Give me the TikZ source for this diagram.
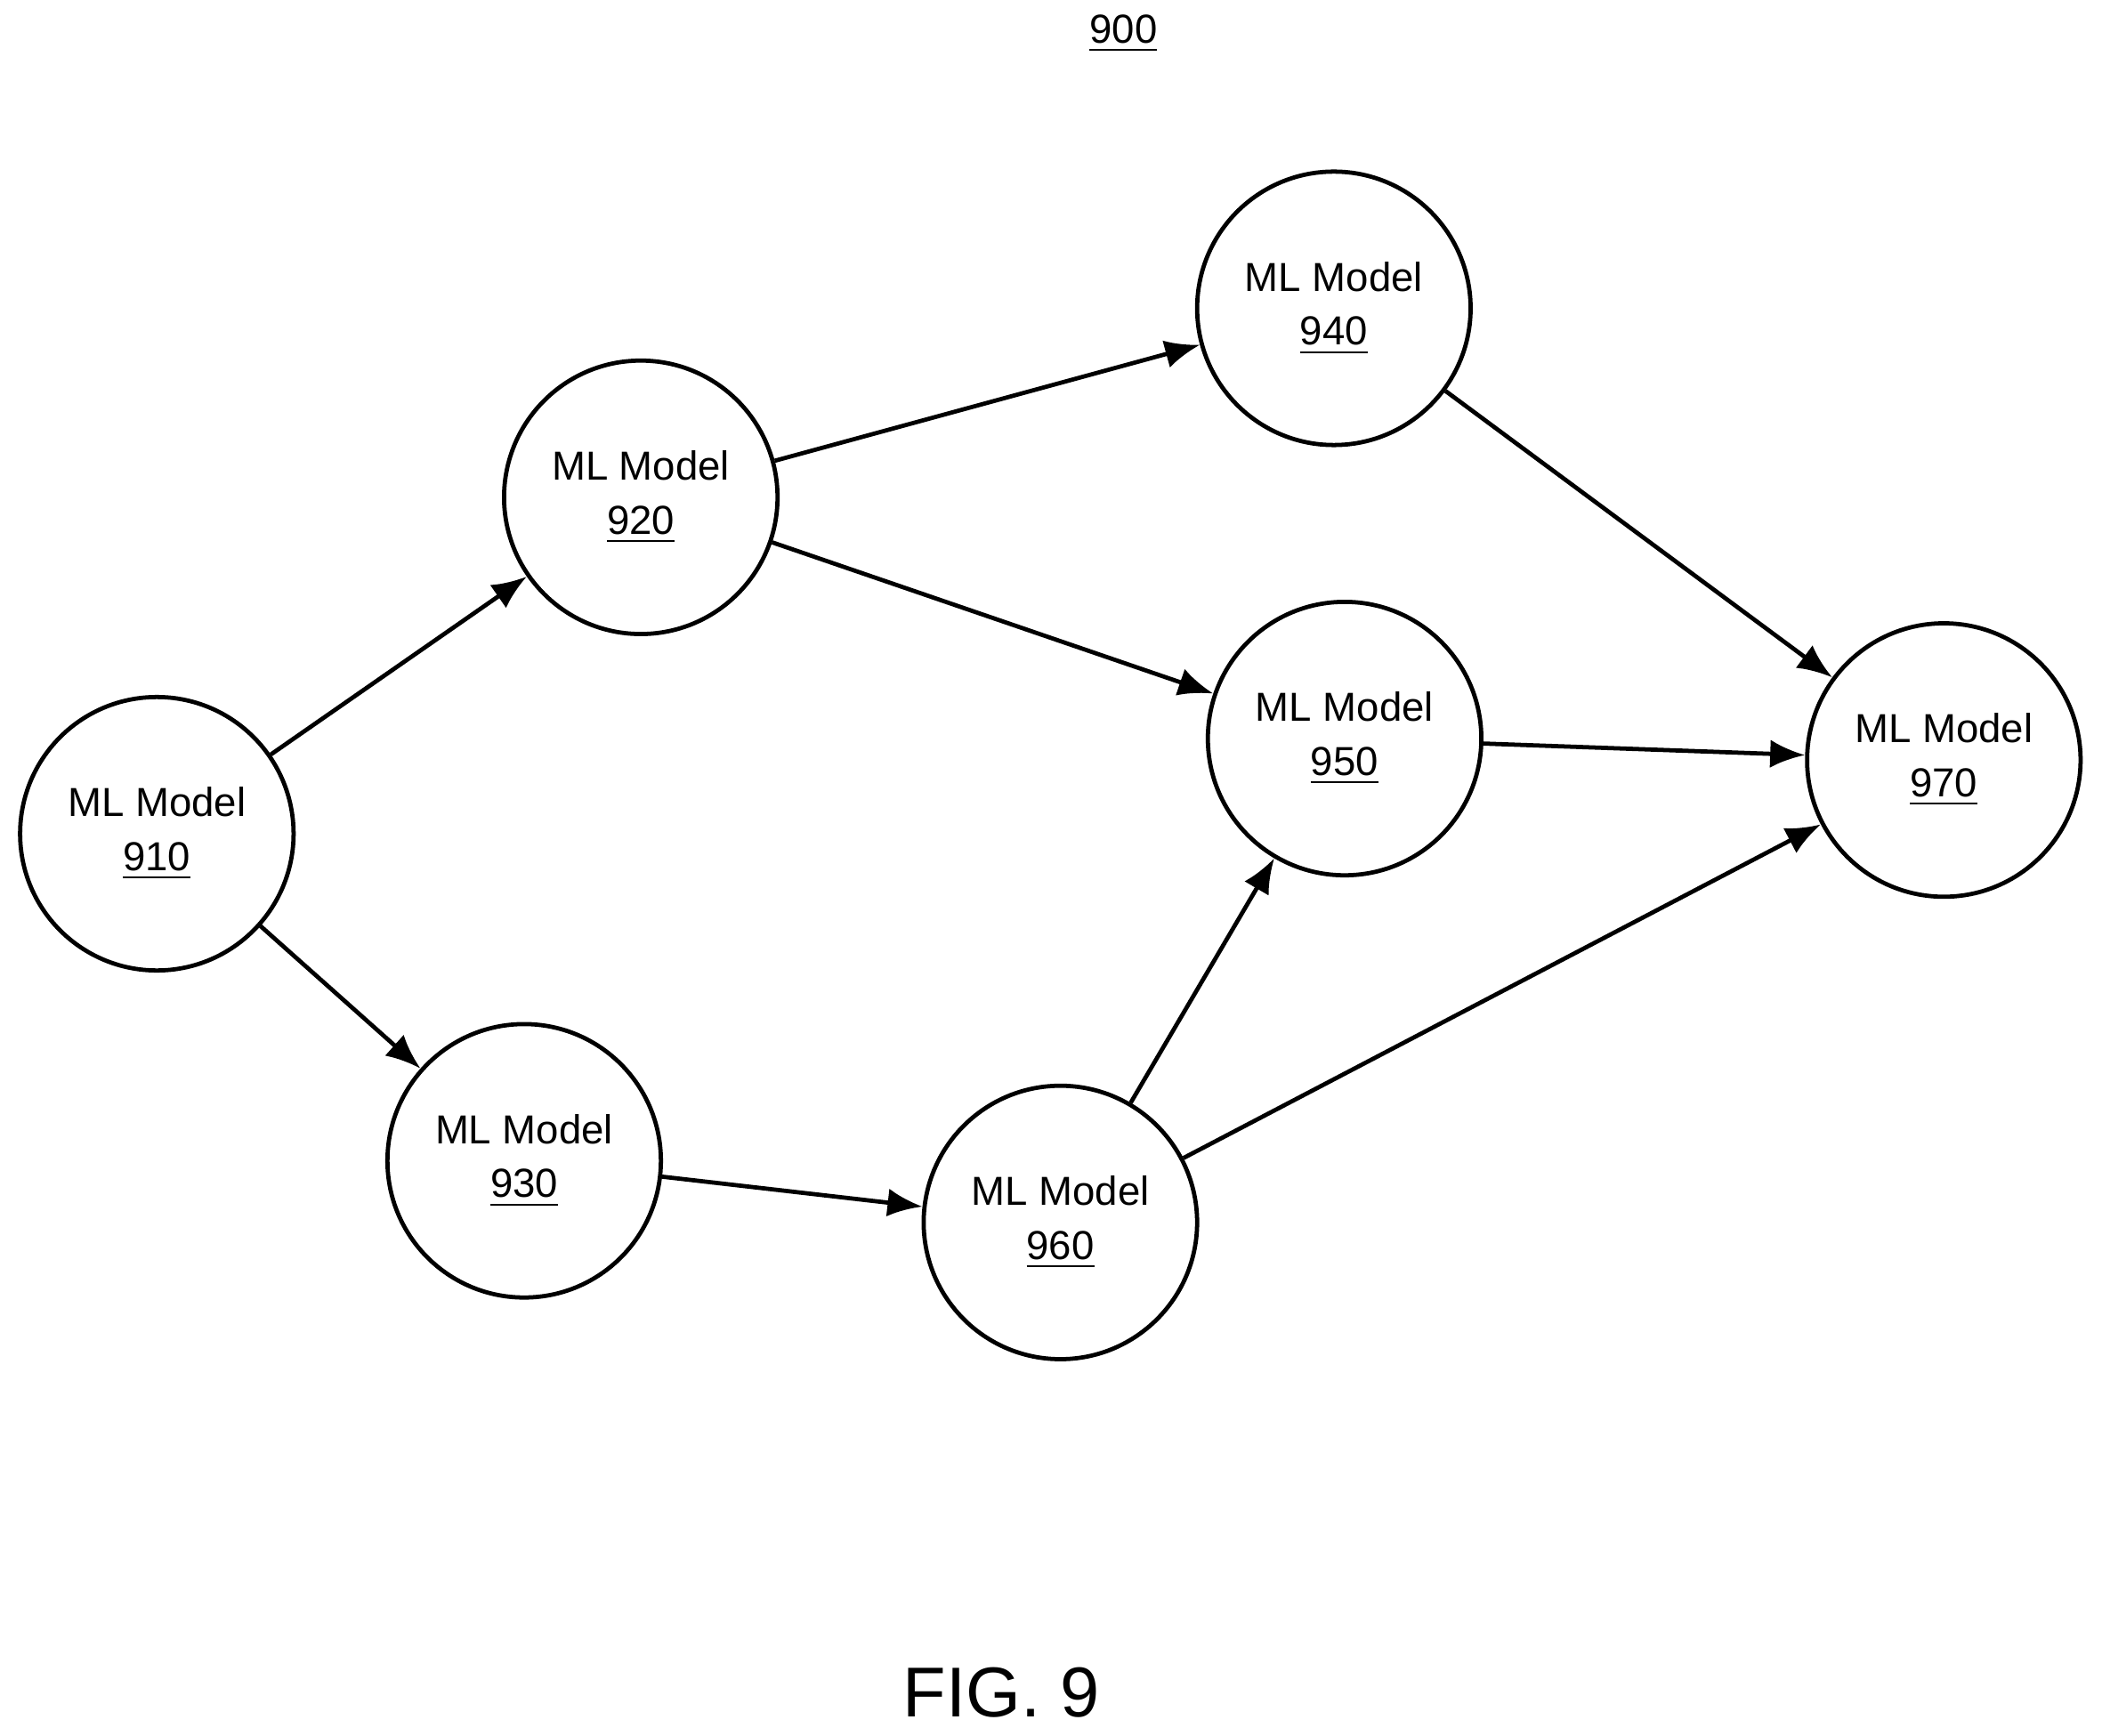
\documentclass[tikz,border=0pt]{standalone}
\usepackage{fontspec}
\setmainfont{Liberation Sans}
\usetikzlibrary{arrows.meta, positioning}
\begin{document}
\begin{tikzpicture}
		[   mnode/.style={draw=black,line width=0.9pt,fill=white,minimum size=2.04cm,circle,inner sep=0pt,align=center,font=\fontsize{8.6}{11.5}\selectfont},
		]
		\tikzset{normal arrow/.style={draw,line width=0.9pt,-{Latex[length=2.6mm,width=2.1mm]}}}
		\useasboundingbox (0,0) rectangle (15.68,-12.95);
		
		\node[font=\fontsize{8.6}{10}\selectfont] (title) at (8.38,-0.25) {\underline{900}};
		\node[font=\fontsize{15}{18}\selectfont] (fig) at (7.47,-12.63) {FIG. 9};
		
		\node[mnode] (m-910) at (1.17,-6.22) {ML Model\\\underline{910}};
		\node[mnode] (m-920) at (4.78,-3.71) {ML Model\\\underline{920}};
		\node[mnode] (m-930) at (3.91,-8.66) {ML Model\\\underline{930}};
		\node[mnode] (m-940) at (9.95,-2.30) {ML Model\\\underline{940}};
		\node[mnode] (m-950) at (10.03,-5.51) {ML Model\\\underline{950}};
		\node[mnode] (m-960) at (7.91,-9.12) {ML Model\\\underline{960}};
		\node[mnode] (m-970) at (14.50,-5.67) {ML Model\\\underline{970}};
		
		\path[normal arrow] (m-910) -- (m-920);
		\path[normal arrow] (m-910) -- (m-930);
		\path[normal arrow] (m-920) -- (m-940);
		\path[normal arrow] (m-920) -- (m-950);
		\path[normal arrow] (m-930) -- (m-960);
		\path[normal arrow] (m-960) -- (m-950);
		\path[normal arrow] (m-960) -- (m-970);
		\path[normal arrow] (m-940) -- (m-970);
		\path[normal arrow] (m-950) -- (m-970);
		\end{tikzpicture}
\end{document}
